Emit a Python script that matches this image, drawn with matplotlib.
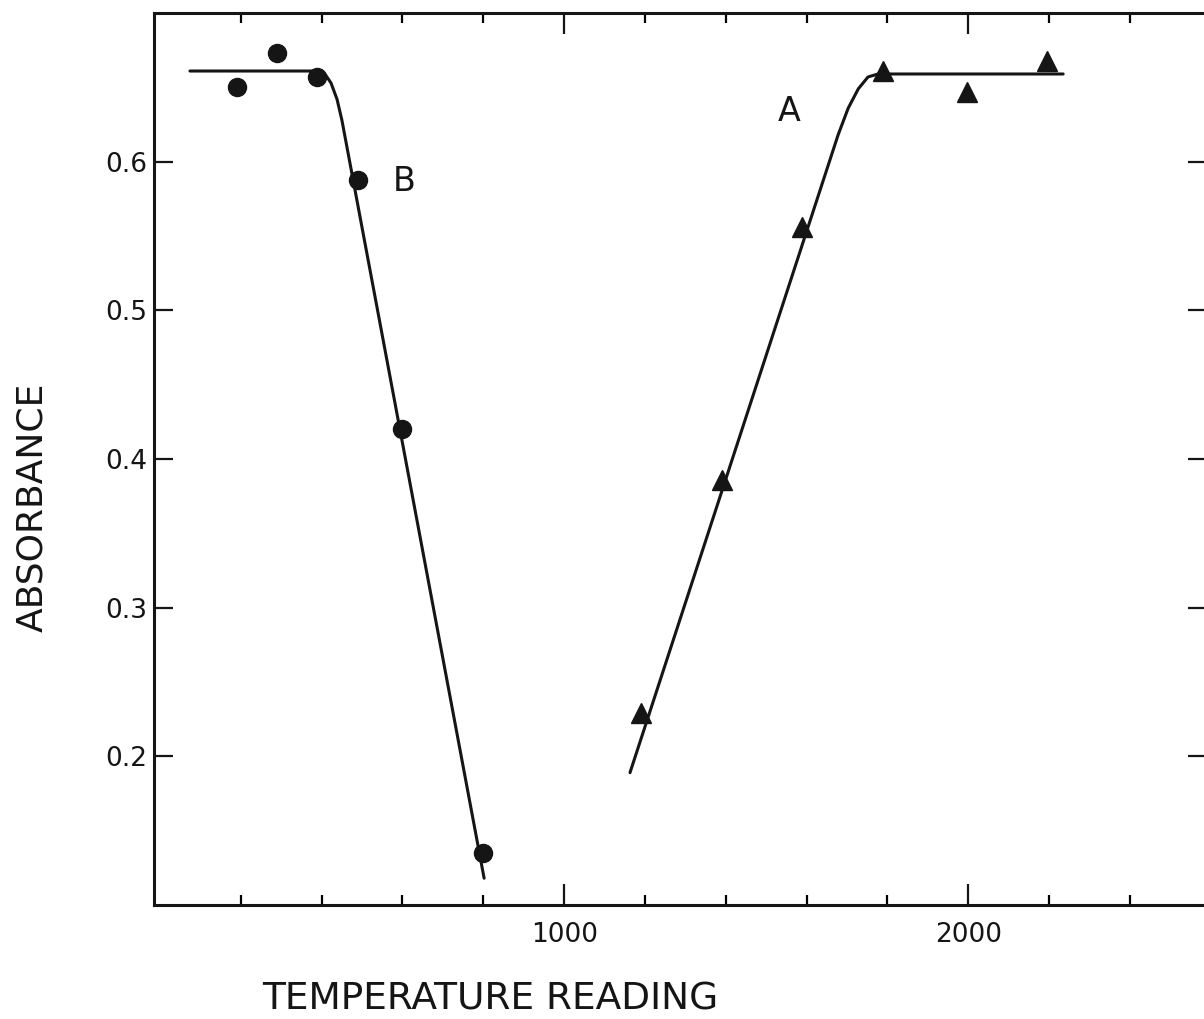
import matplotlib
matplotlib.use("Agg")
import matplotlib.pyplot as plt
from matplotlib.ticker import FixedLocator

# --- data ---
# curve B (circles): absorbance falls with temperature reading
b_temp = [191, 290, 389, 490, 598, 800]
b_abs = [0.650, 0.673, 0.657, 0.588, 0.420, 0.135]
# hand-drawn fit through B
b_fit_temp = [74, 391, 408, 423, 438, 450, 802]
b_fit_abs = [0.661, 0.661, 0.659, 0.653, 0.642, 0.628, 0.118]

# curve A (triangles): absorbance rises with temperature reading
a_temp = [1190, 1390, 1588, 1790, 1998, 2194]
a_abs = [0.229, 0.386, 0.556, 0.661, 0.647, 0.668]
# hand-drawn fit through A
a_fit_temp = [1163, 1678, 1703, 1728, 1752, 1777, 2235]
a_fit_abs = [0.189, 0.618, 0.636, 0.649, 0.657, 0.659, 0.659]

x_major = [1000, 2000]
x_minor = [200, 400, 600, 800, 1200, 1400, 1600, 1800, 2200, 2400]
y_major = [0.2, 0.3, 0.4, 0.5, 0.6]

ink = "#151515"
plt.rcParams["font.family"] = ["DejaVu Sans"]

fig = plt.figure(figsize=(12.04, 10.19), dpi=100)
ax = fig.add_axes([0.1279, 0.1119, 0.8746, 0.8753])

ax.plot(b_fit_temp, b_fit_abs, color=ink, lw=2.2, solid_capstyle="round")
ax.plot(a_fit_temp, a_fit_abs, color=ink, lw=2.2, solid_capstyle="round")
ax.plot(b_temp, b_abs, "o", color=ink, ms=13, mec=ink)
ax.plot(a_temp, a_abs, "^", color=ink, ms=14, mec=ink)

ax.text(1557, 0.634, "A", fontsize=24, color=ink, ha="center", va="center")
ax.text(604, 0.5865, "B", fontsize=24, color=ink, ha="center", va="center")

ax.set_xlim(-15, 2591)
ax.set_ylim(0.1, 0.7)

ax.set_xticks(x_major)
ax.set_xticklabels([str(v) for v in x_major])
ax.xaxis.set_minor_locator(FixedLocator(x_minor))
ax.set_yticks(y_major)
ax.set_yticklabels([f"{v:.1f}" for v in y_major])

ax.tick_params(axis="x", which="major", direction="in", length=15, width=1.6,
               top=True, bottom=True, pad=12, labelsize=19, colors=ink)
ax.tick_params(axis="x", which="minor", direction="in", length=7, width=1.6,
               top=True, bottom=True)
ax.tick_params(axis="y", which="major", direction="in", length=14, width=1.6,
               left=True, right=True, pad=5, labelsize=19, colors=ink)

for sp in ax.spines.values():
    sp.set_linewidth(2.2)
    sp.set_color(ink)

ax.set_xlabel("TEMPERATURE READING", fontsize=27, color=ink, va="center")
ax.xaxis.set_label_coords(0.319, -0.1065)
ax.set_ylabel("ABSORBANCE", fontsize=26, color=ink, va="center")
ax.yaxis.set_label_coords(-0.1159, 0.446)

fig.savefig("out.png", dpi=100)
